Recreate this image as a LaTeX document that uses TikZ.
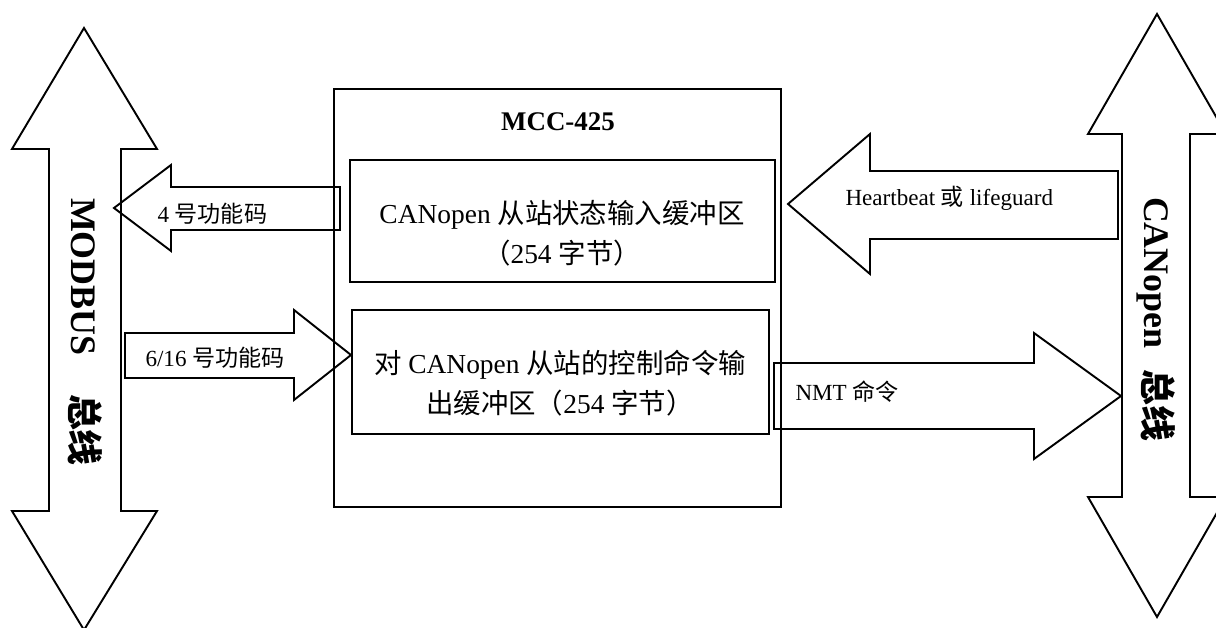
\documentclass[tikz,border=0pt]{standalone}
\usepackage{fontspec}
\setmainfont{Liberation Serif}
\newfontfamily\cjk{Noto Sans CJK SC}
\newcommand{\zh}[1]{{\cjk #1}}

\begin{document}
\begin{tikzpicture}[x=0.39pt, y=-0.39pt,
  outline/.style={line width=0.75pt, line join=miter},
  small/.style={font=\fontsize{9}{11}\selectfont, anchor=west, inner sep=0pt},
  buftext/.style={font=\fontsize{10.7}{15.6}\selectfont, align=center, inner sep=0pt},
  buslabel/.style={font=\fontsize{14}{17}\selectfont\bfseries, rotate=-90, inner sep=0pt}]
\useasboundingbox (0,0) rectangle (1216,628);

% MODBUS bus (double arrow, left)
\draw[outline] (84,28) -- (157,149) -- (121,149) -- (121,511) -- (157,511) -- (84,630)
  -- (12,511) -- (49,511) -- (49,149) -- (12,149) -- cycle;
\node[buslabel] (modbus) at (85,332) {MODBUS\hspace{15pt}\zh{总线}};

% CANopen bus (double arrow, right)
\draw[outline] (1157,14) -- (1226,134) -- (1190,134) -- (1190,497) -- (1226,497) -- (1157,617)
  -- (1088,497) -- (1122,497) -- (1122,134) -- (1088,134) -- cycle;
\node[buslabel] (canbus) at (1156,319) {CANopen\hspace{8pt}\zh{总线}};

% MCC-425 box
\draw[outline] (334,89) rectangle (781,507);
\node[font=\fontsize{10.5}{12}\selectfont\bfseries] (mcc) at (558,122) {MCC-425};

% Input buffer
\draw[outline] (350,160) rectangle (775,282);
\node[buftext] (inbuf) at (562,233) {CANopen \zh{从站状态输入缓冲区}\\\zh{（}254 \zh{字节）}};

% Output buffer
\draw[outline] (352,310) rectangle (769,434);
\node[buftext] (outbuf) at (560,383) {\zh{对} CANopen \zh{从站的控制命令输}\\\zh{出缓冲区（}254 \zh{字节）}};

% Function code 4 (to MODBUS)
\draw[outline] (114,208) -- (171,165) -- (171,187) -- (340,187) -- (340,230) -- (171,230) -- (171,251) -- cycle;
\node[small] (fc4) at (157,214) {4 \zh{号功能码}};

% Function code 6/16 (from MODBUS)
\draw[outline] (125,333) -- (294,333) -- (294,310) -- (351,355) -- (294,400) -- (294,378) -- (125,378) -- cycle;
\node[small] (fc16) at (145,358) {6/16 \zh{号功能码}};

% Heartbeat / lifeguard (from CANopen)
\draw[outline] (788,204) -- (870,134) -- (870,171) -- (1118,171) -- (1118,239) -- (870,239) -- (870,274) -- cycle;
\node[small] (hb) at (845,198) {Heartbeat \zh{或} lifeguard};

% NMT commands (to CANopen)
\draw[outline] (774,363) -- (1034,363) -- (1034,333) -- (1121,396) -- (1034,459) -- (1034,429) -- (774,429) -- cycle;
\node[small] (nmt) at (795,392) {NMT \zh{命令}};

\end{tikzpicture}
\end{document}
